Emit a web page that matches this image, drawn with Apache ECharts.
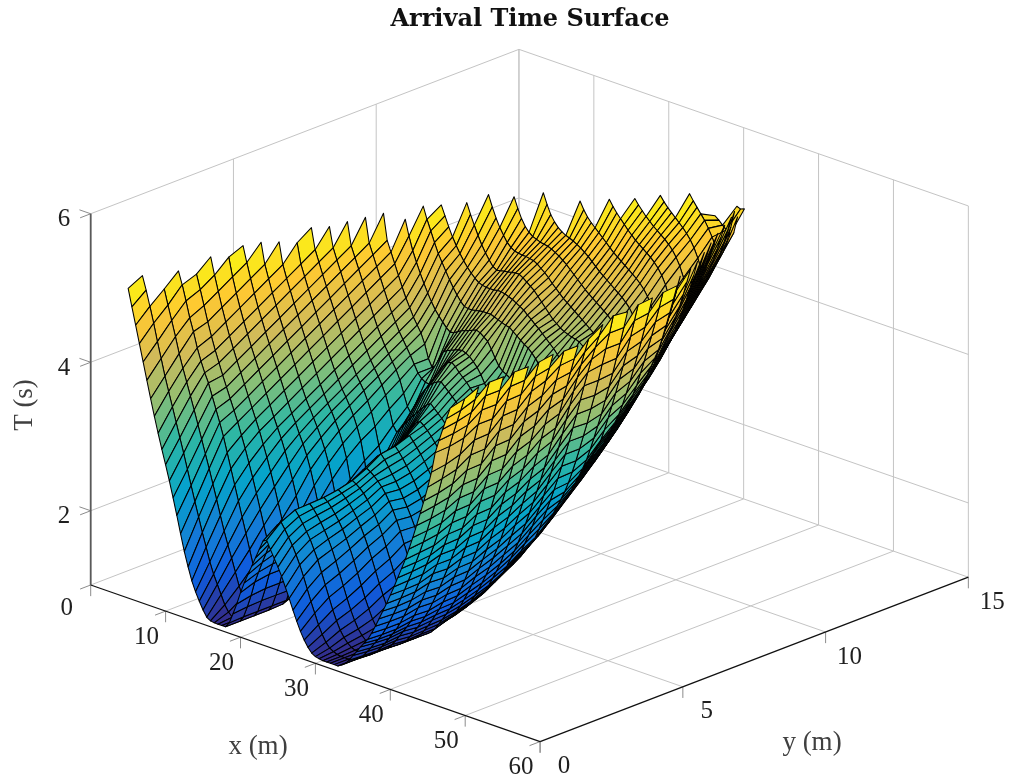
<!DOCTYPE html>
<html><head><meta charset="utf-8"><style>html,body{margin:0;background:#fff}#c{width:1011px;height:780px}</style>
<script src="https://cdn.jsdelivr.net/npm/echarts@6/dist/echarts.min.js"></script></head><body><div id="c"></div>
<script>
const titleText='Arrival Time Surface';
const xTicks=[0,10,20,30,40,50,60];
const yTicks=[0,5,10,15];
const zTicks=[2,4,6];
const xStep=0.5, yStep=0.5;
const parula=['#352a87','#0f5cdd','#1481d6','#06a4ca','#2eb7a4','#87bf77','#d1bb59','#fec832','#f9fb0e'];
// first x (m) of each y row
const rowStartX=[5,5,6,6,6.5,6.5,7,7,7.5,8,8.5,8.5,9,9.5,10,10.5,11.5,12,12.5,14,15,16.5,18.5,21.5,23.5,25,26.5,28.5,30,31];
// arrival time in hundredths of a second, one row per y = 0, 0.5, 1 ...
const arrival=[
[517,494,471,448,425,402,379,357,336,316,297,277,256,234,211,189,170,153,140,129,119,111,108,107,107,107,107,114,128,143,160,175,188,201,214,227,240,243,232,222,212,201,188,175,161,148,136,126,118,112,109,108,107,107,107,107,107,110,114,120,128,135,143,150,157,167,178,190,202,214,227,240,254,268,282,298,315,333,351,370,390,412,440,458,475,491,507],
[527,509,489,468,445,424,402,383,364,345,326,307,287,267,247,228,209,191,173,158,146,134,122,114,109,107,107,115,130,147,167,182,197,211,226,240,254,260,252,243,234,223,211,197,182,167,153,139,128,119,113,110,108,107,107,107,107,110,114,119,126,133,141,148,156,166,177,189,201,214,227,241,255,269,284,300,317,335,354,373,394,415,441,460,478,495,512],
[505,485,466,446,425,407,390,373,356,338,320,302,284,265,246,226,207,190,174,157,140,127,117,110,107,115,131,149,170,186,203,217,233,248,262,269,262,254,245,236,224,212,197,182,167,152,139,128,120,114,110,108,107,106,106,109,113,118,125,132,140,148,156,166,177,189,202,215,228,242,257,271,286,303,320,339,358,378,399,421,445,464,483,502,521],
[522,505,485,464,447,427,411,397,385,369,353,337,320,300,280,260,240,220,200,180,160,140,122,110,107,115,131,149,170,187,204,218,234,249,263,270,265,258,250,241,231,219,205,190,175,160,146,134,124,117,112,109,107,106,106,109,113,119,126,134,142,150,159,169,181,193,206,220,234,248,263,278,294,311,329,348,368,389,411,433,456,477,498,518],
[512,493,473,453,435,418,403,388,374,360,346,332,316,300,282,264,245,225,205,185,162,138,118,108,115,131,150,171,187,204,219,235,250,264,271,267,261,254,246,237,226,214,200,185,170,155,142,130,121,114,110,107,105,105,108,112,117,124,132,140,149,158,168,180,192,205,219,233,248,263,279,295,312,330,349,369,390,412,434,456,477,498,518],
[528,505,485,465,447,430,415,400,386,372,358,344,330,316,300,284,266,248,228,208,187,163,138,116,120,136,154,175,191,208,223,238,253,267,274,271,266,260,253,245,235,224,211,197,182,167,153,140,129,120,113,108,105,105,108,112,118,125,133,142,151,161,172,184,197,211,225,240,256,272,289,306,325,344,364,385,407,429,451,473,494,515],
[522,497,477,459,442,427,412,398,384,370,356,342,328,315,302,287,270,252,232,210,186,160,135,138,153,170,189,204,219,233,247,261,273,279,276,272,267,260,252,243,232,220,206,191,176,161,147,134,123,115,110,107,106,108,112,118,126,134,143,152,162,173,185,198,212,226,241,257,273,290,307,326,345,365,386,408,430,452,474,495,515],
[530,509,489,471,454,439,424,410,396,382,368,354,340,327,316,303,291,277,260,240,218,190,158,162,175,190,207,220,234,247,260,273,284,288,285,281,276,270,263,254,244,232,219,204,189,174,159,145,133,123,116,111,109,114,119,125,131,138,147,157,168,180,193,206,220,235,251,268,285,303,321,340,360,381,403,425,447,469,491,512],
[529,501,483,466,451,436,422,408,394,380,366,352,339,328,317,306,294,280,263,243,218,188,186,198,211,227,239,251,262,274,284,295,300,294,286,278,270,261,251,241,230,218,205,191,177,163,150,139,129,122,117,114,119,125,131,137,144,153,163,174,186,199,213,227,242,258,275,292,310,328,347,367,388,410,432,454,476,495,515],
[524,495,478,463,448,434,420,406,392,378,364,351,340,329,320,309,297,282,264,237,205,205,215,227,240,251,261,270,280,290,299,303,297,290,282,274,265,255,245,234,222,209,196,182,169,157,146,136,128,123,120,126,132,138,145,152,160,171,182,194,208,222,237,253,269,286,304,322,341,361,382,403,425,447,468,489,510],
[517,490,475,460,446,432,418,404,390,376,363,352,341,332,322,311,297,280,255,224,224,233,243,255,265,274,283,292,300,306,310,304,297,290,282,273,264,254,243,231,218,205,192,179,167,156,146,138,132,128,134,141,148,155,162,170,180,192,204,217,231,246,262,278,295,312,330,349,369,389,410,431,451,471,491,510],
[530,502,487,472,458,444,430,416,402,388,375,364,353,344,335,323,310,292,268,250,254,260,268,277,286,294,302,310,316,320,316,311,305,298,291,283,274,264,254,243,231,219,207,195,183,172,162,153,145,139,146,153,160,168,176,184,193,205,218,232,247,262,278,295,313,331,350,370,391,412,433,453,472,491,510],
[526,499,484,470,456,442,428,414,400,387,376,365,356,347,337,325,308,288,280,287,294,301,308,314,320,326,331,335,330,325,320,314,308,301,294,286,277,267,257,246,235,223,211,199,187,175,163,152,151,157,164,171,179,187,195,204,217,231,246,261,277,294,312,330,349,369,389,410,431,451,470,488,505,522],
[527,496,482,468,454,440,426,412,399,388,377,368,359,350,338,322,306,298,311,322,331,339,345,350,353,355,350,345,340,335,329,322,315,307,299,290,280,270,259,248,236,224,212,200,187,175,166,164,172,180,188,196,204,212,221,231,242,253,265,279,295,312,330,349,368,389,409,431,454,477,500,525],
[527,494,480,466,452,438,424,411,400,389,380,371,362,352,342,336,333,332,340,348,356,364,370,372,368,362,357,352,346,340,333,326,318,310,301,291,281,270,259,247,235,223,211,199,187,180,178,186,195,203,212,220,229,238,247,257,268,279,291,304,320,337,355,373,393,413,433,455,477,500,523],
[527,492,478,464,450,436,423,412,401,392,383,370,352,342,346,358,368,372,374,376,378,379,377,374,369,363,355,345,335,331,325,318,311,303,295,286,277,267,256,245,234,223,212,202,197,195,204,213,222,231,240,249,259,269,279,290,301,312,323,339,357,375,394,414,434,455,477,500,523],
[515,494,476,462,449,437,426,416,407,400,394,388,384,385,388,391,393,395,397,399,397,393,389,380,370,361,356,353,350,348,346,340,332,323,313,302,291,279,267,255,243,230,216,213,222,231,240,249,258,267,277,287,297,307,318,329,340,352,367,384,402,421,440,461,482,503,525],
[527,511,497,483,470,460,450,440,431,423,416,411,410,410,411,412,413,413,413,411,409,407,405,404,400,396,392,388,385,380,374,367,359,350,340,330,319,306,292,275,255,235,231,240,249,258,267,276,285,295,305,315,326,337,348,360,372,386,404,422,441,460,480,501,523],
[523,510,497,485,475,466,458,451,445,440,436,434,433,433,433,434,434,433,431,429,426,423,420,415,411,406,402,397,392,387,382,376,368,360,351,340,327,312,294,272,252,250,259,268,277,286,295,304,314,324,334,345,356,367,379,391,404,417,430,447,466,485,505,525],
[524,510,497,485,474,465,457,450,447,448,449,450,451,452,452,449,445,441,437,431,425,419,413,407,403,399,396,394,392,391,389,385,375,358,340,316,289,272,270,280,290,299,308,317,327,337,347,358,369,380,395,412,429,446,465,484,504,525],
[531,516,503,492,483,475,470,467,466,465,465,464,463,460,456,452,447,441,436,431,426,422,418,414,410,406,402,398,394,389,380,367,350,328,295,289,299,308,317,326,335,345,355,365,376,387,399,412,426,440,455,470,488,507,526],
[526,512,500,491,485,481,479,477,476,475,473,470,467,463,459,454,449,444,439,434,430,426,422,418,414,410,405,398,388,374,354,328,308,318,327,336,345,355,365,375,386,398,410,423,437,452,468,486,505,525],
[531,517,505,497,491,487,484,482,480,477,474,470,466,461,456,451,447,443,439,435,431,427,422,416,407,394,376,352,332,342,352,361,371,381,392,403,415,428,442,457,473,490,508,526],
[523,513,505,499,494,489,484,479,474,469,465,461,457,453,449,445,440,434,426,415,398,375,356,366,376,386,397,408,420,433,447,462,478,495,512,528],
[525,517,510,504,498,492,487,482,478,474,470,466,461,455,447,436,420,398,380,390,400,411,423,436,450,465,481,497,514,530],
[524,517,511,505,500,495,491,487,483,478,472,464,454,440,422,404,414,425,437,450,464,479,495,512,530],
[526,519,513,508,503,498,493,487,480,471,459,444,428,438,450,463,477,493,511,530],
[528,520,513,506,499,490,480,468,455,466,482,502,525],
[496,492,487,482,478,482,505],
[505,503,505]
];
const origin=[90.7,585], xVec=[7.49,2.61], yVec=[28.55,-10.96], zPerSec=-74.25, zBase=1;
const xMax=60,yMax=15,zMax=6;
function project(x,y,t){return [origin[0]+xVec[0]*x+yVec[0]*y, origin[1]+xVec[1]*x+yVec[1]*y+zPerSec*(t-zBase)];}

const cells=[];
for(let j=arrival.length-2;j>=0;j--){
  const a=arrival[j],b=arrival[j+1],sa=rowStartX[j],sb=rowStartX[j+1];
  const y0=j*yStep,y1=(j+1)*yStep;
  const from=Math.max(sa,sb), to=Math.min(sa+(a.length-1)*xStep,sb+(b.length-1)*xStep);
  for(let x=from;x<to;x+=xStep){
    const i=(x-sa)/xStep,k=(x-sb)/xStep;
    const t=[a[i],a[i+1],b[k+1],b[k]].map(v=>v/100);
    cells.push([x,y0,t[0],t[1],t[2],t[3],(t[0]+t[1]+t[2]+t[3])/4]);
  }
}
const gridSegs=[];
xTicks.forEach(k=>{ if(k<xMax) gridSegs.push([k,0,zBase,k,yMax,zBase]); gridSegs.push([k,yMax,zBase,k,yMax,zMax]);});
yTicks.forEach(k=>{ if(k>0) gridSegs.push([0,k,zBase,xMax,k,zBase]); gridSegs.push([0,k,zBase,0,k,zMax]);});
zTicks.forEach(k=>{gridSegs.push([0,0,k,0,yMax,k]);gridSegs.push([0,yMax,k,xMax,yMax,k]);});
const tickSegs=[];
xTicks.forEach(k=>{tickSegs.push([k,0,zBase,k,0,0.85]);tickSegs.push([k,0,zBase,k,-0.37,zBase]);});
yTicks.forEach(k=>{tickSegs.push([xMax,k,zBase,xMax,k,0.85]);});
zTicks.forEach(k=>{tickSegs.push([0,0,k,-1.5,0,k]);tickSegs.push([0,0,k,0,-0.37,k]);});
const xyAxes=[[0,0,zBase,xMax,0,zBase],[xMax,0,zBase,xMax,yMax,zBase]];
const zAxis=[[0,0,zBase,0,0,zMax]];

function segSeries(data,color,width,z){
  return {type:'custom',coordinateSystem:'cartesian2d',silent:true,clip:false,z,data,animation:false,
    renderItem(p,api){
      const a=api.coord(project(api.value(0),api.value(1),api.value(2)));
      const b=api.coord(project(api.value(3),api.value(4),api.value(5)));
      return {type:'line',shape:{x1:a[0],y1:a[1],x2:b[0],y2:b[1]},style:{stroke:color,lineWidth:width}};
    }};
}
const serif='"Liberation Serif","Times New Roman",serif';
const labels=[];
xTicks.forEach(k=>labels.push({pos:[k,0,zBase],dx:k?-19:-24,dy:k?26:23,text:String(k)}));
yTicks.forEach(k=>labels.push({pos:[xMax,k,zBase],dx:24,dy:25,text:String(k)}));
zTicks.forEach(k=>labels.push({pos:[0,0,k],dx:-26.7,dy:6,text:String(k)}));
const labelSeries={type:'custom',coordinateSystem:'cartesian2d',silent:true,clip:false,z:9,animation:false,
  data:labels.map((l,i)=>[i]),
  renderItem(p,api){
    const l=labels[api.value(0)];
    const c=api.coord(project(l.pos[0],l.pos[1],l.pos[2]));
    return {type:'text',x:c[0]+l.dx,y:c[1]+l.dy,style:{text:l.text,align:'center',verticalAlign:'middle',font:'25px '+serif,fill:'#1f1f1f'}};
  }};
const surface={type:'custom',coordinateSystem:'cartesian2d',silent:true,clip:false,z:5,progressive:0,animation:false,data:cells,
  renderItem(p,api){
    const x=api.value(0),y=api.value(1);
    const pts=[project(x,y,api.value(2)),project(x+xStep,y,api.value(3)),project(x+xStep,y+yStep,api.value(4)),project(x,y+yStep,api.value(5))].map(q=>api.coord(q));
    return {type:'polygon',shape:{points:pts},style:{fill:api.visual('color'),stroke:'#000',lineWidth:1.05,lineJoin:'round'}};
  }};
const nameStyle={font:'27px '+serif,fill:'#404040',textAlign:'center',textVerticalAlign:'middle'};
const chart=echarts.init(document.getElementById('c'),null,{renderer:'canvas'});
chart.setOption({
  animation:false,backgroundColor:'#fff',
  title:{text:titleText,left:525,top:3,textAlign:'center',textStyle:{fontFamily:'"DejaVu Serif",serif',fontWeight:'bold',fontSize:24,color:'#111'}},
  grid:{left:0,right:0,top:0,bottom:0},
  xAxis:{type:'value',min:0,max:1011,show:false},
  yAxis:{type:'value',min:0,max:780,inverse:true,show:false},
  visualMap:{show:false,type:'continuous',seriesIndex:4,dimension:6,min:1.05,max:5.3,inRange:{color:parula}},
  graphic:[
    {type:'text',x:258,y:747,style:Object.assign({text:'x (m)'},nameStyle)},
    {type:'text',x:812,y:743,style:Object.assign({text:'y (m)'},nameStyle)},
    {type:'text',x:25,y:405,rotation:Math.PI/2,style:Object.assign({text:'T (s)'},nameStyle)}
  ],
  series:[segSeries(gridSegs,'#c4c4c4',1,1),segSeries(tickSegs,'#8c8c8c',1,2),segSeries(xyAxes,'#111',1.3,3),segSeries(zAxis,'#5a5a5a',1.8,3),surface,labelSeries]
});
</script></body></html>
